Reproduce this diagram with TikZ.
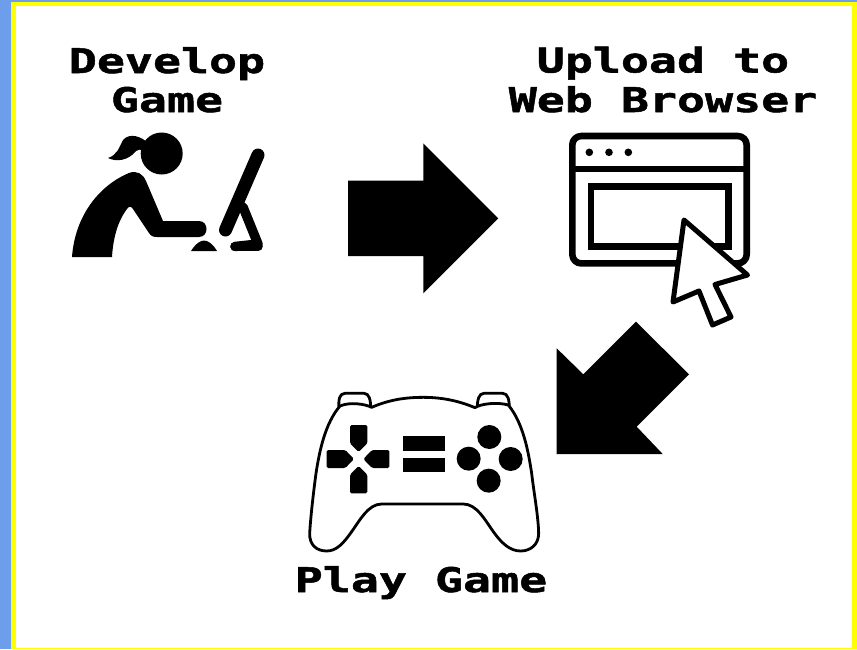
\documentclass[tikz,border=0pt]{standalone}
\usepackage{fontspec}
\newfontfamily\pixfont[FakeStretch=1.37,FakeBold=1.5]{DejaVu Sans Mono Bold}
\definecolor{bandblue}{HTML}{6D9EEB}
\definecolor{bandyellow}{HTML}{FFFF00}
\tikzset{
  x=1pt,y=-1pt,
  caption/.style={font=\pixfont\fontsize{34}{34}\selectfont,anchor=base,inner sep=0pt,text=black},
  solid shape/.style={fill=black,draw=none},
  thick bar/.style={draw=black,line width=#1,line cap=round,line join=round},
  pad line/.style={draw=black,line width=2.8pt,line join=round,fill=white},
  browser line/.style={draw=black,line width=6.6pt,line join=round},
}
\begin{document}
\begin{tikzpicture}
\useasboundingbox (0,0) rectangle (857,649);
% frame
\fill[bandblue] (0,0) rectangle (857,649);
\fill[bandyellow] (11,2) rectangle (857,649);
\fill[white] (15.5,6) rectangle (852,648);
% captions
\node[caption] (develop) at (167,73) {Develop};
\node[caption] (game) at (167,112) {Game};
\node[caption] (upload) at (663,72.5) {Upload to};
\node[caption] (web) at (663,112) {Web Browser};
\node[caption] (play) at (421,592) {Play Game};
% person
\fill[black] (161.7,153.5) circle (21);
\path[solid shape] (148,143) .. controls (142,137) and (130,132) .. (123,140)
  .. controls (119,148) and (117,155) .. (108,158)
  .. controls (116,162) and (128,161) .. (136,151)
  .. controls (138,149) and (141,149) .. (144,152) -- cycle;
\path[solid shape] (72,257) .. controls (75,215) and (100,185) .. (129,173)
  .. controls (137,170) and (143,174) .. (146,181)
  -- (163,221) -- (199,221)
  .. controls (209,221) and (209,237) .. (199,237)
  -- (157,237) .. controls (153,237) and (151,236) .. (149,233)
  -- (133,209) .. controls (131,206) and (129,206) .. (127,209)
  .. controls (117,222) and (113,240) .. (112,257) -- cycle;
\path[solid shape] (191,251) .. controls (196,243) and (201,240.5) .. (204,240.5)
  .. controls (208,240.5) and (213,244) .. (217,251) -- cycle;
\draw[thick bar=13pt] (258,155) -- (225.5,230);
\draw[thick bar=9.5pt] (243,207) -- (258,244) -- (235,246.5);
\draw[thick bar=9.5pt] (258,246.5) -- (235,246.5);
% block arrows
\path[solid shape] (348,180.7) -- (423.3,180.7) -- (423.3,143.3) -- (498.3,218.3)
  -- (423.3,293.3) -- (423.3,256) -- (348,256) -- cycle;
\path[solid shape] (556.7,348.3) -- (583.3,374.3) -- (636,321.7) -- (689,374.3)
  -- (636.7,426.7) -- (662.7,454) -- (556.7,454) -- cycle;
% browser
\draw[browser line,rounded corners=9pt] (572.3,136) rectangle (746.7,263.4);
\draw[browser line] (572.3,169) -- (746.7,169);
\draw[browser line,line join=miter] (591,186.7) rectangle (728.3,246.7);
\foreach \cx in {589.3,609,628.3} \fill[black] (\cx,152.3) circle (3.8);
\draw[browser line,line width=5pt,fill=white] (684,220) -- (747.5,275) -- (715,284.5) -- (731,317)
  -- (712.5,325) -- (699,291) -- (673,302) -- cycle;
% game pad
\begin{scope}[shift={(280,380)},scale=1/3]
\draw[pad line] (177,85) .. controls (175,60) and (178,40) .. (195,40) -- (252,40)
  .. controls (268,40) and (272,60) .. (272,85) -- cycle;
\draw[pad line] (592,85) .. controls (592,60) and (596,40) .. (612,40) -- (668,40)
  .. controls (684,40) and (688,60) .. (688,85) -- cycle;
\draw[pad line] (275,82) .. controls (330,58) and (380,52) .. (430,52)
  .. controls (480,52) and (530,60) .. (585,83)
  .. controls (600,72) and (650,65) .. (685,75)
  .. controls (730,130) and (745,215) .. (755,280)
  .. controls (762,340) and (775,410) .. (776,460)
  .. controls (776,495) and (750,513) .. (722,513)
  .. controls (690,513) and (665,490) .. (640,455)
  .. controls (615,420) and (590,372) .. (550,372)
  -- (305,372)
  .. controls (265,372) and (240,420) .. (215,455)
  .. controls (190,490) and (170,513) .. (140,513)
  .. controls (110,513) and (88,495) .. (89,460)
  .. controls (92,410) and (100,340) .. (108,280)
  .. controls (118,215) and (135,130) .. (180,78)
  .. controls (210,65) and (255,72) .. (275,82) -- cycle;
\path[solid shape,rounded corners=1.5pt] (210,135) -- (262,135) -- (262,190) -- (236,216) -- (210,190) -- cycle;
\path[solid shape,rounded corners=1.5pt] (210,340) -- (262,340) -- (262,284) -- (236,258) -- (210,284) -- cycle;
\path[solid shape,rounded corners=1.5pt] (140,210) -- (196,210) -- (222,237) -- (196,264) -- (140,264) -- cycle;
\path[solid shape,rounded corners=1.5pt] (328,210) -- (276,210) -- (250,237) -- (276,264) -- (328,264) -- cycle;
\fill[black] (368,168) rectangle (494,212);
\fill[black] (368,233) rectangle (494,277);
\fill[black] (628,171) circle (36);
\fill[black] (566,236) circle (36);
\fill[black] (692,237) circle (36);
\fill[black] (626,302) circle (36);
\end{scope}
\end{tikzpicture}
\end{document}
